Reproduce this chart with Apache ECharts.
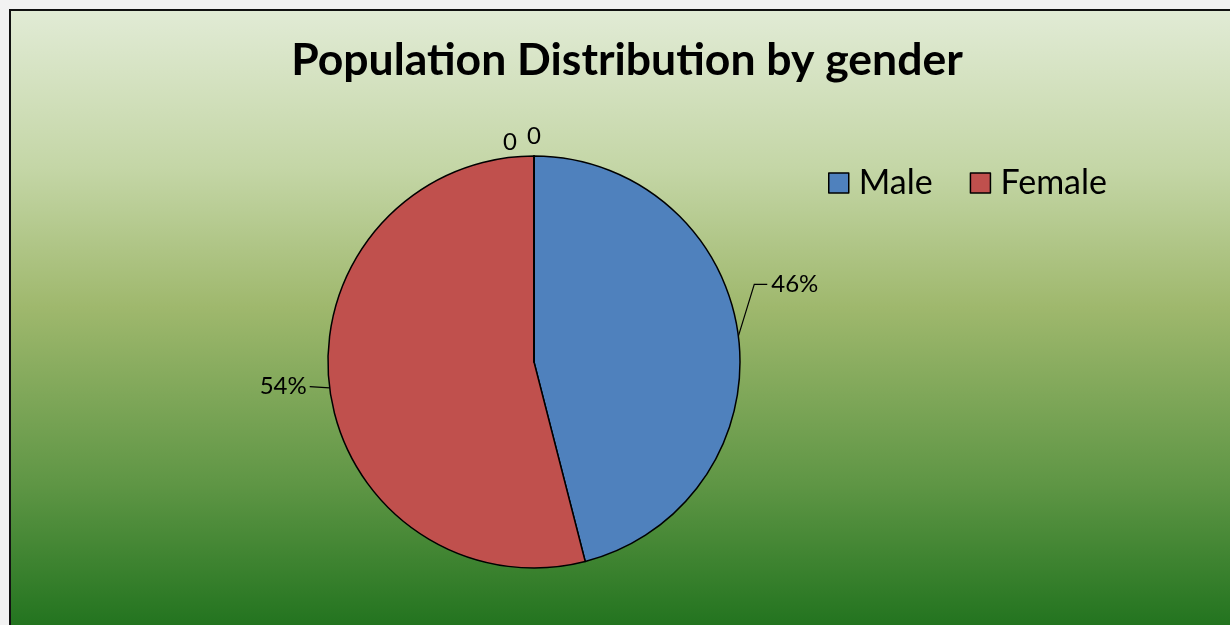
<!DOCTYPE html>
<html>
<head>
<meta charset="utf-8">
<script src="https://cdn.jsdelivr.net/npm/echarts@6/dist/echarts.min.js"></script>
<style>
  html, body { margin: 0; padding: 0; background: #f2f2f2; overflow: hidden; }
  #myChart {
    position: absolute; left: 9px; top: 9px;
    width: 1240px; height: 630px;
    border-left: 2px solid #111; border-top: 2px solid #111;
  }
</style>
</head>
<body>
<div id="myChart"></div>
<script>
// categories and values (two empty categories stay at 0, as in the source sheet)
var categories = ['Male', 'Female', '3rd Qtr', '4th Qtr']
var values = [46, 54, 0, 0]
var legendNames = ['Male', 'Female']
var colors = ['#4f81bd', '#c0504d', '#9bbb59', '#8064a2']

var chartDom = document.getElementById('myChart')
var myChart = echarts.init(chartDom)

var pieData = categories.map(function (name, i) {
  var item = { name: name, value: values[i] }
  if (values[i] === 0) {
    item.labelLine = { show: false }
  }
  return item
})

// nudges so the labels sit where the original put them
var labelNudge = [
  { dx: 0, dy: -50 },
  { dx: 10, dy: -3 },
  { dx: 2, dy: 0 },
  { dx: 26, dy: -6 }
]

function layoutLabel(params) {
  var n = labelNudge[params.dataIndex]
  var pts = params.labelLinePoints
  if (!pts || values[params.dataIndex] === 0) {
    return n
  }
  // redraw the leader line to the moved label: edge -> elbow -> label side
  var r = params.labelRect
  var right = params.align !== 'right' && pts[2][0] >= pts[0][0]
  var y = r.y + r.height / 2 + n.dy
  var endX = right ? r.x + n.dx - 4 : r.x + r.width + n.dx + 3
  var elbowX = right ? endX - 13 : endX
  return {
    dx: n.dx,
    dy: n.dy,
    labelLinePoints: [pts[0], [elbowX, y], [endX, y]]
  }
}

var option = {
  backgroundColor: {
    type: 'linear', x: 0, y: 0, x2: 0, y2: 1,
    colorStops: [
      { offset: 0, color: '#e1ebd5' },
      { offset: 0.25, color: '#c4d6a6' },
      { offset: 0.47, color: '#9fb86d' },
      { offset: 0.75, color: '#5f9645' },
      { offset: 1, color: '#1c701b' }
    ]
  },
  color: colors,
  title: {
    text: 'Population Distribution by gender',
    left: 611,
    textAlign: 'center',
    top: 22,
    textStyle: { fontFamily: 'Lato', fontWeight: 'bold', fontSize: 44.5, color: '#000' }
  },
  legend: {
    data: legendNames,
    left: 812,
    top: 150,
    icon: 'rect',
    itemWidth: 20,
    itemHeight: 20,
    itemGap: 37,
    itemStyle: { borderColor: '#000', borderWidth: 1.5 },
    textStyle: { fontFamily: 'Lato', fontSize: 34, color: '#000', padding: [0, 0, 0, 5] }
  },
  series: [
    {
      name: 'gender',
      type: 'pie',
      center: [523, 351],
      radius: 206,
      startAngle: 90,
      clockwise: true,
      avoidLabelOverlap: false,
      itemStyle: { borderColor: '#000', borderWidth: 1.5 },
      label: {
        show: true,
        position: 'outside',
        fontFamily: 'Lato',
        fontSize: 24,
        color: '#000',
        formatter: function (p) {
          return p.value === 0 ? '0' : Math.round(p.percent) + '%'
        }
      },
      labelLine: {
        show: true,
        length: 14,
        length2: 14,
        lineStyle: { color: '#000', width: 1.2 }
      },
      labelLayout: layoutLabel,
      emphasis: { disabled: true },
      data: pieData
    }
  ]
}

myChart.setOption(option)
</script>
</body>
</html>
